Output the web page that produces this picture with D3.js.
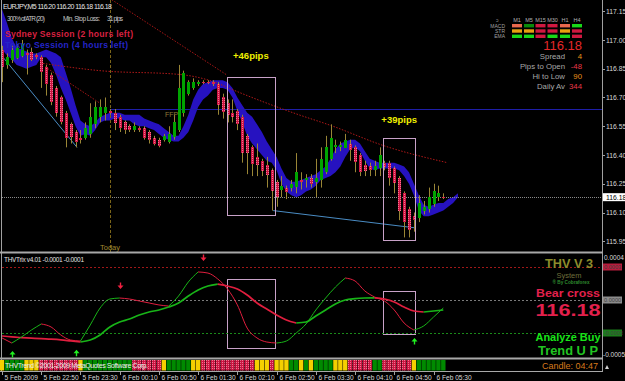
<!DOCTYPE html>
<html><head><meta charset="utf-8">
<script src="https://cdn.jsdelivr.net/npm/d3@7"></script>
<style>body{margin:0;background:#000;}svg{display:block;font-family:"Liberation Sans",Arial,sans-serif;}</style>
</head><body><svg id="c" width="625" height="381"></svg>
<script>
// ---------- DATA ----------
const symbolTitle = "EURJPY,M5  116.20 116.20 116.18 116.18";
const openP  = [116.95,116.87,116.90,116.91,116.92,116.93,116.94,116.92,116.91,116.86,116.82,116.75,116.70,116.62,116.56,116.52,116.49,116.49,116.51,116.56,116.60,116.62,116.63,116.62,116.60,116.57,116.55,116.53,116.54,116.54,116.52,116.49,116.48,116.48,116.47,116.49,116.53,116.62,116.72,116.75,116.77,116.78,116.78,116.78,116.77,116.70,116.67,116.62,116.63,116.60,116.50,116.44,116.39,116.37,116.35,116.32,116.26,116.22,116.23,116.23,116.23,116.27,116.27,116.28,116.26,116.27,116.31,116.38,116.44,116.44,116.44,116.46,116.44,116.40,116.35,116.34,116.32,116.33,116.36,116.36,116.33,116.28,116.20,116.12,116.08,116.07,116.11,116.12,116.14,116.18,116.18];
const highP  = [116.97,116.93,116.97,116.98,117.00,116.95,116.96,116.93,116.92,116.87,116.83,116.76,116.71,116.63,116.57,116.53,116.53,116.57,116.67,116.68,116.69,116.70,116.64,116.64,116.61,116.58,116.56,116.57,116.55,116.55,116.53,116.50,116.49,116.51,116.55,116.61,116.87,116.84,116.79,116.80,116.79,116.79,116.79,116.79,116.78,116.72,116.69,116.69,116.64,116.61,116.51,116.45,116.46,116.38,116.39,116.33,116.27,116.29,116.24,116.27,116.41,116.31,116.30,116.30,116.38,116.44,116.50,116.56,116.48,116.47,116.51,116.48,116.45,116.41,116.37,116.36,116.37,116.44,116.37,116.37,116.34,116.29,116.21,116.13,116.10,116.19,116.16,116.23,116.25,116.24,116.20];
const lowP   = [116.78,116.85,116.88,116.90,116.91,116.82,116.89,116.90,116.75,116.71,116.66,116.60,116.56,116.44,116.46,116.44,116.46,116.48,116.49,116.54,116.57,116.58,116.61,116.53,116.52,116.51,116.52,116.52,116.52,116.48,116.46,116.45,116.44,116.47,116.46,116.48,116.52,116.60,116.71,116.74,116.76,116.77,116.77,116.76,116.61,116.59,116.57,116.57,116.53,116.36,116.30,116.29,116.29,116.29,116.23,116.11,116.13,116.18,116.17,116.21,116.20,116.22,116.23,116.23,116.18,116.23,116.30,116.37,116.41,116.42,116.44,116.37,116.31,116.29,116.29,116.29,116.29,116.29,116.32,116.24,116.20,116.06,115.97,115.97,116.00,116.05,116.09,116.10,116.13,116.16,116.17];
const closeP = [116.86,116.91,116.95,116.96,116.98,116.92,116.90,116.91,116.83,116.77,116.68,116.62,116.57,116.49,116.49,116.47,116.48,116.54,116.60,116.65,116.65,116.65,116.62,116.57,116.54,116.53,116.53,116.55,116.53,116.49,116.48,116.46,116.45,116.50,116.51,116.57,116.75,116.83,116.78,116.78,116.78,116.78,116.78,116.77,116.66,116.62,116.61,116.60,116.56,116.41,116.41,116.35,116.35,116.32,116.30,116.21,116.18,116.24,116.21,116.25,116.31,116.26,116.28,116.25,116.28,116.38,116.44,116.49,116.45,116.45,116.48,116.43,116.36,116.31,116.32,116.32,116.34,116.40,116.34,116.28,116.25,116.11,116.05,116.01,116.06,116.15,116.13,116.18,116.21,116.20,116.18];
const bandTop = [117.16,117.09,117.01,116.96,116.95,116.94,116.93,116.93,116.94,116.95,116.94,116.93,116.91,116.83,116.75,116.66,116.58,116.56,116.55,116.57,116.60,116.61,116.62,116.62,116.62,116.61,116.61,116.61,116.61,116.59,116.58,116.57,116.56,116.54,116.52,116.50,116.50,116.55,116.61,116.69,116.74,116.77,116.78,116.79,116.79,116.79,116.78,116.75,116.70,116.66,116.62,116.60,116.56,116.52,116.47,116.43,116.39,116.33,116.28,116.26,116.26,116.27,116.28,116.29,116.30,116.32,116.34,116.38,116.43,116.46,116.47,116.48,116.48,116.46,116.42,116.38,116.37,116.36,116.36,116.36,116.36,116.35,116.34,116.31,116.25,116.19,116.14,116.13,116.14,116.15,116.15,116.17,116.18,116.20];
const bandBot = [116.95,116.92,116.90,116.87,116.86,116.85,116.86,116.87,116.91,116.91,116.88,116.82,116.75,116.69,116.62,116.55,116.50,116.51,116.50,116.53,116.57,116.58,116.58,116.59,116.59,116.58,116.58,116.56,116.55,116.55,116.54,116.53,116.51,116.49,116.48,116.47,116.47,116.49,116.52,116.58,116.65,116.69,116.71,116.74,116.75,116.75,116.74,116.70,116.63,116.57,116.50,116.46,116.43,116.40,116.37,116.36,116.32,116.25,116.21,116.19,116.18,116.19,116.21,116.22,116.24,116.27,116.28,116.29,116.31,116.34,116.39,116.43,116.44,116.42,116.37,116.33,116.32,116.33,116.33,116.33,116.33,116.32,116.29,116.25,116.19,116.11,116.08,116.08,116.09,116.10,116.11,116.13,116.15,116.18];
const priceTicks = [117.15,117.00,116.85,116.70,116.55,116.40,116.25,116.10,115.95];
const bidPrice = 116.18;
const dayOpenPrice = 116.64;
const todayBar = 22;
const timeTickBars = [0,8,16,24,32,40,48,56,64,72,80,88];
const timeLabels = ["5 Feb 2009","5 Feb 22:50","5 Feb 23:30","6 Feb 00:10","6 Feb 00:50","6 Feb 01:30","6 Feb 02:10","6 Feb 02:50","6 Feb 03:30","6 Feb 04:10","6 Feb 04:50","6 Feb 05:30"];
// trend lines: [bar, price]
const maDotted = [[7.75,116.88],[20,116.84],[36.3,116.82],[43.4,116.78],[47.1,116.74],[59.4,116.62],[67.5,116.55],[77.7,116.45],[90.8,116.36]];
const steepDotted = [[22.4,117.21],[45.7,116.82]];
const shortDotted = [[8.8,116.86],[20,116.67]];
const blueTrend1 = [[0.2,116.91],[15.3,116.44]];
const blueTrend2 = [[55.3,116.11],[84.2,116.02]];
// trade boxes
const boxBar0 = [45.9, 77.7], boxBar1 = [55.6, 84.3];
const boxPriceTop = [116.807, 116.49], boxPriceBot = [116.085, 115.96];
const boxTrixTop = [1.91, 0.82], boxTrixBot = [-4.36, -3.09];
const boxLabels = ["+46pips","+39pips"], boxLabelPrice = [116.917, 116.583];
// THVTrix (units of 1e-4), sampled every 2 bars
const trixBars = [0,2,4,6,8,10,12,14,16,18,20,22,24,26,28,30,32,34,36,38,40,42,44,46,48,50,52,54,56,58,60,62,64,66,68,70,72,74,76,78,80,82,84,86,88,90];
const fastTrix = [-3.45,-3.91,-3.36,-2.73,-2.18,-2.45,-3.18,-3.64,-3.73,-2.27,-0.73,0.09,0.18,0.09,-0.09,-0.27,-0.45,-0.55,0.36,1.64,2.55,2.45,1.91,1.00,-0.45,-2.55,-3.45,-3.82,-3.91,-3.73,-3.00,-2.18,-0.91,0.18,1.18,2.00,1.73,0.82,0.27,-0.09,-0.91,-2.09,-2.73,-2.36,-1.55,-0.73];
const slowTrix = [-3.27,-3.36,-3.42,-3.47,-3.52,-3.56,-3.62,-3.72,-3.82,-3.64,-3.18,-2.45,-2.00,-1.73,-1.36,-1.09,-0.91,-0.64,-0.27,0.36,0.91,1.27,1.45,1.27,1.00,0.45,-0.27,-0.82,-1.36,-1.82,-2.09,-2.00,-1.45,-0.91,-0.36,0.00,0.12,0.18,0.20,0.09,-0.18,-0.64,-1.00,-1.09,-1.00,-0.91];
const trixLevels = [3, 0, -3];
const trixLevelLabels = ["0.0003","0.0000","-0.0003"];
const sellArrows = [[24,1.27],[41,3.82]];
const buyArrows = [[2,-4.9],[15,-4.8],[84,-3.73]];
const trendState = ["Y","G","G","G","G","Y","Y","Y","R","R","R","R","R","R","R","R","Y","G","G","G","G","G","G","G","G","G","G","R","R","R","R","R","R","Y","G","G","G","G","G","Y","Y","R","R","R","R","R","R","R","R","R","R","R","Y","Y","Y","R","Y","Y","Y","G","G","Y","G","Y","G","G","G","G","Y","Y","Y","R","R","R","R","R","G","G","R","R","R","R","R","R","Y","G","G","G","G","G","G"];
// dashboard
const tfLabels = ["M1","M5","M15","M30","H1","H4"];
const sigRows = ["MACD","STR","EMA"];
const sigStates = [["wbear","wbull","bear","bear","wbear","bull"],["flat","flat","bear","bear","flat","bear"],["bull","bull","bear","bull","bull","bear"]];
const statLabels = ["Spread","Pips to Open","Hi to Low","Daily Av"];
const statValues = ["4","-48","90","344"];
const statTone = ["o","r","o","r"];
const sessionTexts = ["Sydney Session (2 hours left)","Tokyo Session (4 hours left)"];

// ---------- DRAW ----------
const svg = d3.select("#c");
svg.append("rect").attr("width",625).attr("height",381).attr("fill","#000");
const defs = svg.append("defs");
const pat = defs.append("pattern").attr("id","rp").attr("width",2).attr("height",2).attr("patternUnits","userSpaceOnUse");
pat.append("rect").attr("width",2).attr("height",2).attr("fill","#cc1642");
pat.append("rect").attr("width",1).attr("height",1).attr("fill","#f27592");
defs.append("clipPath").attr("id","mc").append("rect").attr("x",2).attr("y",0).attr("width",600).attr("height",252);
defs.append("clipPath").attr("id","ic").append("rect").attr("x",2).attr("y",254).attr("width",600).attr("height",104);

const x = d3.scaleLinear().domain([0,88]).range([2,433.5]);
const y = d3.scaleLinear().domain([117.00,115.95]).range([40,241.25]);
const yi = d3.scaleLinear().domain([3,-3]).range([267,333]);
const px = i => Math.round(x(i));

const main = svg.append("g").attr("clip-path","url(#mc)");
// band
main.append("path").datum(d3.range(bandTop.length))
  .attr("d", d3.area().x(i=>x(i)).y0(i=>y(bandBot[i])).y1(i=>y(bandTop[i])))
  .attr("fill","#2612c0");
// bid & day open lines
main.append("line").attr("x1",0).attr("x2",602).attr("y1",Math.round(y(bidPrice))+0.5).attr("y2",Math.round(y(bidPrice))+0.5)
  .attr("stroke","#8a8a8a").attr("stroke-dasharray","1,1");
main.append("line").attr("x1",x(todayBar)).attr("x2",602).attr("y1",Math.round(y(dayOpenPrice))+0.5).attr("y2",Math.round(y(dayOpenPrice))+0.5)
  .attr("stroke","#1e1ea8");
// today vertical
main.append("line").attr("x1",px(todayBar)+0.5).attr("x2",px(todayBar)+0.5).attr("y1",0).attr("y2",252)
  .attr("stroke","#7a6418").attr("stroke-dasharray","3,2");
// trend lines
const tl = d3.line().x(d=>x(d[0])).y(d=>y(d[1]));
main.append("path").datum(maDotted).attr("d",tl.curve(d3.curveMonotoneX)).attr("fill","none").attr("stroke","#b01818").attr("stroke-dasharray","1.5,1.5");
const tl2 = d3.line().x(d=>x(d[0])).y(d=>y(d[1]));
[steepDotted, shortDotted].forEach(l=>main.append("path").datum(l).attr("d",tl2).attr("fill","none").attr("stroke","#a81616").attr("stroke-dasharray","1.5,1.5"));
[blueTrend1, blueTrend2].forEach(l=>main.append("path").datum(l).attr("d",tl2).attr("fill","none").attr("stroke","#4a8cc4").attr("stroke-width",1));
// candles
const bars = d3.range(openP.length);
main.selectAll(".wk").data(bars).join("line").attr("class","wk")
  .attr("x1",i=>px(i)+0.5).attr("x2",i=>px(i)+0.5).attr("y1",i=>y(highP[i])).attr("y2",i=>y(lowP[i]))
  .attr("stroke","#9a8636").attr("stroke-width",1);
main.selectAll(".bd").data(bars).join("rect").attr("class","bd")
  .attr("x",i=>px(i)-1).attr("width",3)
  .attr("y",i=>Math.round(y(Math.max(openP[i],closeP[i]))))
  .attr("height",i=>Math.max(1,Math.round(Math.abs(y(openP[i])-y(closeP[i])))))
  .attr("fill",i=>closeP[i]>openP[i]?"#00a400":(Math.abs(y(openP[i])-y(closeP[i]))<3?"#e0204a":"url(#rp)"));
// boxes
const bx = svg.append("g");
[0,1].forEach(k=>{
  bx.append("rect").attr("x",px(boxBar0[k])+0.5).attr("y",Math.round(y(boxPriceTop[k]))+0.5)
    .attr("width",px(boxBar1[k])-px(boxBar0[k])).attr("height",Math.round(y(boxPriceBot[k])-y(boxPriceTop[k])))
    .attr("fill","none").attr("stroke","#c8a2c8");
  bx.append("rect").attr("x",px(boxBar0[k])+0.5).attr("y",Math.round(yi(boxTrixTop[k]))+0.5)
    .attr("width",px(boxBar1[k])-px(boxBar0[k])).attr("height",Math.round(yi(boxTrixBot[k])-yi(boxTrixTop[k])))
    .attr("fill","none").attr("stroke","#c8a2c8");
  bx.append("text").attr("x",(x(boxBar0[k])+x(boxBar1[k]))/2).attr("y",y(boxLabelPrice[k])+3.5)
    .attr("text-anchor","middle").attr("font-size",9.5).attr("font-weight","bold").attr("fill","#f0f000").text(boxLabels[k]);
});
// FFP & Today labels
svg.append("text").attr("x",165).attr("y",y(dayOpenPrice)+8).attr("font-size",7).attr("fill","#8c7a36").text("FFP");
svg.append("text").attr("x",px(todayBar)-10).attr("y",250).attr("font-size",7.5).attr("fill","#a08a30").text("Today");

// top-left texts
svg.append("text").attr("x",3).attr("y",9).attr("font-size",7).attr("fill","#e6e6e6").attr("textLength",109).text(symbolTitle);
svg.append("text").attr("x",7).attr("y",21).attr("font-size",6.5).attr("fill","#c8c8c8").attr("textLength",38).text("300% of ATR (20)");
svg.append("text").attr("x",63).attr("y",21).attr("font-size",6.5).attr("fill","#c8c8c8").attr("textLength",37).text("Min. Stop Loss:");
svg.append("text").attr("x",107).attr("y",21).attr("font-size",6.5).attr("fill","#c8c8c8").attr("textLength",16).text("31 pips");
svg.append("text").attr("x",5).attr("y",36.5).attr("font-size",8.6).attr("font-weight","bold").attr("fill","#d82040").attr("textLength",128).text(sessionTexts[0]);
svg.append("text").attr("x",5).attr("y",47.5).attr("font-size",8.6).attr("font-weight","bold").attr("fill","#2424c8").attr("textLength",123).text(sessionTexts[1]);

// dashboard
const stateColor = {bull:"#18d818", wbull:"#0a8a0a", bear:"#d01840", wbear:"#e8684e", flat:"#e8a010"};
const colX = [512,524,535.5,547.5,560,572];
tfLabels.forEach((t,c)=>svg.append("text").attr("x",colX[c]+5).attr("y",21.5).attr("text-anchor","middle").attr("font-size",5.5).attr("fill","#b0b0b0").text(t));
svg.append("text").attr("x",496).attr("y",21.5).attr("font-size",5).attr("fill","#909090").text("ↄ");
sigRows.forEach((r,ri)=>{
  svg.append("text").attr("x",505).attr("y",27.5+ri*5.3).attr("text-anchor","end").attr("font-size",5).attr("fill","#a0a0a0").text(r);
  sigStates[ri].forEach((s,c)=>svg.append("rect").attr("x",colX[c]).attr("y",24+ri*5.3).attr("width",10).attr("height",3.4).attr("fill",stateColor[s]));
});
svg.append("text").attr("x",582).attr("y",50).attr("text-anchor","end").attr("font-size",13).attr("fill","#e42828").text(bidPrice.toFixed(2));
statLabels.forEach((l,k)=>{
  svg.append("text").attr("x",565).attr("y",59+k*10).attr("text-anchor","end").attr("font-size",7.8).attr("fill","#a8a8a8").text(l);
  svg.append("text").attr("x",582).attr("y",59+k*10).attr("text-anchor","end").attr("font-size",7.8).attr("fill",statTone[k]==="o"?"#e8901a":"#e83848").text(statValues[k]);
});

// price axis
svg.append("line").attr("x1",602.5).attr("x2",602.5).attr("y1",0).attr("y2",372).attr("stroke","#a0a0a0");
svg.append("line").attr("x1",1.5).attr("x2",1.5).attr("y1",0).attr("y2",372).attr("stroke","#a0a0a0");
priceTicks.forEach(p=>{
  svg.append("line").attr("x1",602).attr("x2",605).attr("y1",Math.round(y(p))+0.5).attr("y2",Math.round(y(p))+0.5).attr("stroke","#a0a0a0");
  svg.append("text").attr("x",606).attr("y",y(p)+2.5).attr("font-size",6.8).attr("fill","#d8d8d8").text(p.toFixed(2));
});
svg.append("rect").attr("x",603).attr("y",y(bidPrice)-4).attr("width",22).attr("height",8).attr("fill","#ffffff");
svg.append("text").attr("x",606).attr("y",y(bidPrice)+2.5).attr("font-size",6.8).attr("fill","#000").text(bidPrice.toFixed(2));

// separators
[[252.5,2],[358.5,2],[371.5,1]].forEach(([yy,w])=>svg.append("line").attr("x1",0).attr("x2",603).attr("y1",yy).attr("y2",yy).attr("stroke","#a8a8a8").attr("stroke-width",w));

// indicator panel
const ind = svg.append("g").attr("clip-path","url(#ic)");
const lvlColor = ["#a01818","#7a7a7a","#1a8a1a"];
trixLevels.forEach((v,k)=>ind.append("line").attr("x1",2).attr("x2",602).attr("y1",Math.round(yi(v))+0.5).attr("y2",Math.round(yi(v))+0.5)
  .attr("stroke",lvlColor[k]).attr("stroke-dasharray","2,2"));
function drawTrix(vals, w){
  const runs=[]; let cur=null;
  for(let k=0;k<vals.length-1;k++){
    let up = vals[k+1]>vals[k] ? true : vals[k+1]<vals[k] ? false : (cur?cur.up:true);
    if(!cur||cur.up!==up){cur={up,pts:[k]};runs.push(cur);}
    cur.pts.push(k+1);
  }
  const ln = d3.line().x(k=>x(trixBars[k])).y(k=>yi(vals[k])).curve(d3.curveMonotoneX);
  runs.forEach(r=>ind.append("path").datum(r.pts).attr("d",ln).attr("fill","none")
    .attr("stroke",r.up?"#18b418":"#e01e3e").attr("stroke-width",w));
}
drawTrix(slowTrix,1.7);
drawTrix(fastTrix,1);
sellArrows.forEach(([b,v])=>{
  const cx=px(b)+0.5, cy=yi(v);
  svg.append("path").attr("d",`M${cx-0.7},${cy-3.5}h1.4v3h2.3l-3,3.5l-3,-3.5h2.3z`).attr("fill","#f02040");
});
buyArrows.forEach(([b,v])=>{
  const cx=px(b)+0.5, cy=yi(v);
  svg.append("path").attr("d",`M${cx-0.7},${cy+3.5}h1.4v-3h2.3l-3,-3.5l-3,3.5h2.3z`).attr("fill","#20f020");
});
svg.append("text").attr("x",4).attr("y",262).attr("font-size",6.5).attr("fill","#e0e0e0").attr("textLength",80).text("THVTrix v4.01 -0.0001 -0.0001");
svg.append("text").attr("x",604).attr("y",260).attr("font-size",6.5).attr("fill","#d8d8d8").text("0.0004");
svg.append("text").attr("x",603).attr("y",357).attr("font-size",6.5).attr("fill","#d8d8d8").text("-0.0005");
const lvlBg = ["#b81c3c","#8c8c8c","#1c7c1c"];
trixLevels.forEach((v,k)=>{
  svg.append("rect").attr("x",603).attr("y",yi(v)-3.5).attr("width",19).attr("height",7).attr("fill",lvlBg[k]);
  svg.append("text").attr("x",604).attr("y",yi(v)+2.3).attr("font-size",5.6).attr("fill","#404040").text(trixLevelLabels[k]);
});
// right side texts in indicator
const T = (t,xx,yy,fs,col,bold,len)=>{const e=svg.append("text").attr("x",xx).attr("y",yy).attr("text-anchor","middle").attr("font-size",fs).attr("fill",col).text(t);
  if(bold) e.attr("font-weight","bold"); if(len) e.attr("textLength",len).attr("lengthAdjust","spacingAndGlyphs"); return e;};
T("THV V 3",569,267.5,12.5,"#8c8c2c",true,48);
T("System",569,278,7.5,"#6e6e3a",false,25);
T("® By Cobraforex",571,284.3,5,"#2e8a2e",true,37);
T("Bear cross",568,296.8,11.5,"#e2204c",true,64);
T("116.18",568,315.5,17,"#e2204c",true,65);
T("Analyze Buy",568,341,11.5,"#18e418",true,65);
T("Trend U P",568,354.5,12.5,"#22c422",true,60);
T("Candle:  04:47",570,369,9,"#d87a1c",false,56);

// trend color strip
const stripColor = {R:"url(#rp)", Y:"#f4d000", G:"#008a00"};
svg.selectAll(".st").data(bars).join("rect").attr("class","st")
  .attr("x",i=>x(i)-2.2).attr("width",4.4).attr("y",360).attr("height",10.5)
  .attr("fill",i=>stripColor[trendState[i]]);
svg.append("text").attr("x",5).attr("y",368).attr("font-size",7).attr("fill","#ececec").attr("textLength",143).text("THVTrend  ©2001-2009 MetaQuotes Software Corp.");
svg.append("path").attr("d","M605,369l2,-4l2,4z").attr("fill","#d0d0d0");

// time axis
timeTickBars.forEach((b,k)=>{
  svg.append("line").attr("x1",px(b)+0.5).attr("x2",px(b)+0.5).attr("y1",372).attr("y2",375).attr("stroke","#a0a0a0");
  svg.append("text").attr("x",px(b)+2.5).attr("y",379.5).attr("font-size",6.6).attr("fill","#d8d8d8").text(timeLabels[k]);
});
</script></body></html>
